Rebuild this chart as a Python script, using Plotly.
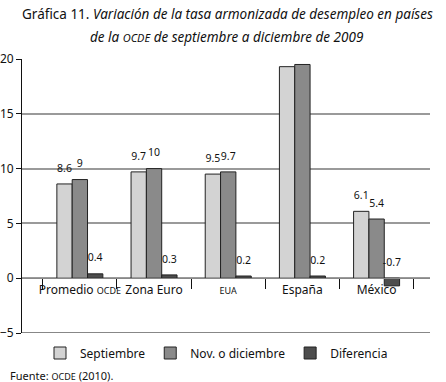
import plotly.graph_objects as go

categories = ["Promedio <span style='font-size:9px'>OCDE</span>", "Zona Euro",
              "<span style='font-size:9px'>EUA</span>", "España", "México"]
septiembre = [8.6, 9.7, 9.5, 19.3, 6.1]
nov_dic = [9.0, 10.0, 9.7, 19.5, 5.4]
diferencia = [0.4, 0.3, 0.2, 0.2, -0.7]
series_names = ["Septiembre", "Nov. o diciembre", "Diferencia"]
series_values = [septiembre, nov_dic, diferencia]
colors = ["#d3d3d3", "#8a8a8a", "#4d4d4d"]
y_ticks = [-5, 0, 5, 10, 15, 20]

FONT = "Noto Sans"
W, H = 446, 382
ml, mr, mt, mb = 22, 16, 59, 49
pw, ph = W - ml - mr, H - mt - mb

def fmt(v):
    return f"{v:g}"

fig = go.Figure()
for name, vals, col in zip(series_names, series_values, colors):
    fig.add_trace(go.Bar(x=categories, y=vals, name=name, marker_color=col,
                         marker_line=dict(color="#222", width=1),
                         offsetgroup=name))
for name, vals in zip(series_names, series_values):
    fig.add_trace(go.Scatter(x=categories, y=[max(v, 0) for v in vals],
                             text=[fmt(v) for v in vals], mode="markers+text",
                             marker=dict(size=14, opacity=0),
                             textposition="top center", showlegend=False,
                             offsetgroup=name, hoverinfo="skip",
                             textfont=dict(size=10.5, color="#111", family=FONT)))

fig.update_layout(
    width=W, height=H,
    margin=dict(l=ml, r=mr, t=mt, b=mb, autoexpand=False),
    paper_bgcolor="white", plot_bgcolor="white",
    barmode="group", bargap=0.38, bargroupgap=0,
    scattermode="group", scattergap=0.38,
    font=dict(family=FONT, size=12, color="#111"),
    showlegend=True,
    legend=dict(orientation="h", x=(40 - ml) / pw, xanchor="left",
                y=(H - mb - 353) / ph, yanchor="middle",
                font=dict(size=12), itemwidth=30, traceorder="normal"),
    xaxis=dict(type="category", range=[-0.78, 4.72], anchor="free",
               position=(0 - y_ticks[0]) / (y_ticks[-1] - y_ticks[0]),
               showline=True, linecolor="#888", linewidth=1,
               tickson="boundaries", ticks="outside", ticklen=10,
               tickcolor="#111", showgrid=False, tickangle=0, automargin=False,
               tickfont=dict(size=12)),
    yaxis=dict(range=[y_ticks[0], y_ticks[-1]], tickvals=y_ticks,
               ticks="outside", ticklen=5, tickcolor="#111", automargin=False,
               showline=True, linecolor="#111", linewidth=1,
               showgrid=True, gridcolor="#9a9a9a", gridwidth=1.5,
               zeroline=False, tickfont=dict(size=12)),
)

# black gridline at 5 and floor line at -5
fig.add_hline(y=5, line=dict(color="#111", width=1), layer="below")
fig.add_hline(y=y_ticks[0], line=dict(color="#111", width=1.2), layer="below")

fig.add_annotation(xref="paper", yref="paper", x=(227 - ml) / pw, y=(H - mb - 14) / ph,
                   text="Gráfica 11. <i>Variación de la tasa armonizada de desempleo en países</i>",
                   showarrow=False, font=dict(size=13.5, family=FONT), yanchor="middle")
fig.add_annotation(xref="paper", yref="paper", x=(227 - ml) / pw, y=(H - mb - 37) / ph,
                   text="<i>de la <span style='font-size:11px'>OCDE</span> de septiembre a diciembre de 2009</i>",
                   showarrow=False, font=dict(size=13.5, family=FONT), yanchor="middle")
fig.add_annotation(xref="paper", yref="paper", x=(8 - ml) / pw, xanchor="left",
                   y=(H - mb - 375) / ph, yanchor="middle",
                   text="Fuente: <span style='font-size:9px'>OCDE</span> (2010).",
                   showarrow=False, font=dict(size=11, family=FONT))

fig.write_html("out.html", config={"displayModeBar": False},
               post_script="document.body.style.margin='0';document.body.style.padding='0';")
